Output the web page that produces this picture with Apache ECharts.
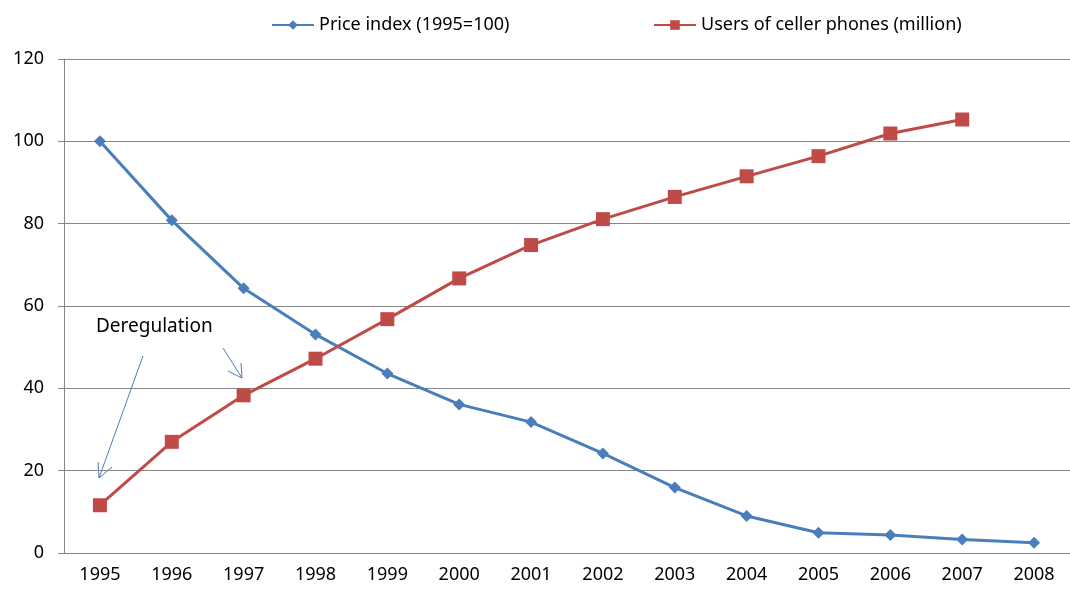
<!DOCTYPE html>
<html><head><meta charset="utf-8">
<script src="https://cdn.jsdelivr.net/npm/echarts@6/dist/echarts.min.js"></script>
<style>html,body{margin:0;padding:0;background:#fff}#c{width:1070px;height:590px}</style>
</head><body><div id="c"></div>
<script>
const years = ['1995','1996','1997','1998','1999','2000','2001','2002','2003','2004','2005','2006','2007','2008'];
const priceIndex = [100, 80.8, 64.3, 53.1, 43.6, 36.1, 31.8, 24.2, 15.9, 9.0, 4.9, 4.4, 3.3, 2.5];
const cellUsers = [11.6, 27.0, 38.3, 47.2, 56.8, 66.7, 74.8, 81.1, 86.5, 91.5, 96.4, 101.9, 105.3, null];
const yTicks = {min: 0, max: 120, interval: 20};
const seriesNames = ['Price index (1995=100)', 'Users of celler phones (million)'];
const FONT = 'Noto Sans';

const legendBase = {
  top: 11, orient: 'horizontal', itemWidth: 42, itemHeight: 12, itemGap: 5,
  textStyle: {fontFamily: FONT, fontSize: 18, color: '#000', padding: [0, 0, 0, 0]}
};

const chart = echarts.init(document.getElementById('c'));
chart.setOption({
  animation: false,
  backgroundColor: '#fff',
  grid: {left: 64, top: 59, bottom: 37, width: 1013},
  legend: [
    Object.assign({}, legendBase, {left: 266, data: [seriesNames[0]]}),
    Object.assign({}, legendBase, {left: 648, data: [seriesNames[1]]})
  ],
  xAxis: {
    type: 'category', data: years, boundaryGap: true,
    axisLine: {lineStyle: {color: '#868686', width: 1}},
    axisTick: {length: 7, lineStyle: {color: '#868686'}},
    axisLabel: {fontFamily: FONT, fontSize: 18, color: '#000', margin: 13}
  },
  yAxis: {
    type: 'value', min: yTicks.min, max: yTicks.max, interval: yTicks.interval,
    axisLine: {show: true, lineStyle: {color: '#868686', width: 1}},
    axisTick: {show: true, length: 6, lineStyle: {color: '#868686'}},
    splitLine: {lineStyle: {color: '#868686', width: 1}},
    axisLabel: {fontFamily: FONT, fontSize: 18, color: '#000', margin: 20}
  },
  series: [
    {name: seriesNames[0], type: 'line', data: priceIndex,
     symbol: 'diamond', symbolSize: 12,
     lineStyle: {color: '#4A7EBB', width: 3},
     itemStyle: {color: '#4A7EBB'}},
    {name: seriesNames[1], type: 'line', data: cellUsers,
     symbol: 'rect', symbolSize: 14,
     lineStyle: {color: '#BE4B48', width: 3},
     itemStyle: {color: '#BE4B48'}}
  ],
  graphic: [
    {type: 'text', left: 96, top: 317, style: {text: 'Deregulation', font: '19px "Noto Sans"', fill: '#000'}},
    {type: 'line', shape: {x1: 143, y1: 356, x2: 99, y2: 478}, style: {stroke: '#4A7EBB', lineWidth: 1}},
    {type: 'polyline', shape: {points: [[98, 462], [99, 478], [112, 467]]}, style: {stroke: '#4A7EBB', lineWidth: 1, fill: null}},
    {type: 'line', shape: {x1: 223, y1: 348, x2: 242, y2: 378}, style: {stroke: '#4A7EBB', lineWidth: 1}},
    {type: 'polyline', shape: {points: [[228, 371], [242, 378], [241, 363]]}, style: {stroke: '#4A7EBB', lineWidth: 1, fill: null}}
  ]
});
</script></body></html>
